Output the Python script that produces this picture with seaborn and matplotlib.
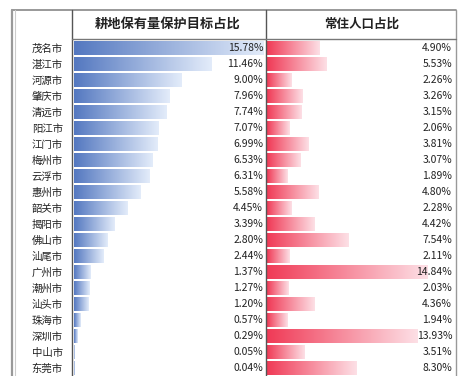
import numpy as np
import pandas as pd
import seaborn as sns
import matplotlib.pyplot as plt
from matplotlib.lines import Line2D
from matplotlib.colors import to_rgb

cities = ["茂名市", "湛江市", "河源市", "肇庆市", "清远市", "阳江市", "江门市",
          "梅州市", "云浮市", "惠州市", "韶关市", "揭阳市", "佛山市", "汕尾市",
          "广州市", "潮州市", "汕头市", "珠海市", "深圳市", "中山市", "东莞市"]
target_share = [15.78, 11.46, 9.00, 7.96, 7.74, 7.07, 6.99, 6.53, 6.31, 5.58, 4.45,
                3.39, 2.80, 2.44, 1.37, 1.27, 1.20, 0.57, 0.29, 0.05, 0.04]
pop_share = [4.90, 5.53, 2.26, 3.26, 3.15, 2.06, 3.81, 3.07, 1.89, 4.80, 2.28,
             4.42, 7.54, 2.11, 14.84, 2.03, 4.36, 1.94, 13.93, 3.51, 8.30]
header_left = "耕地保有量保护目标占比"
header_right = "常住人口占比"

df = pd.DataFrame({"city": cities, "target": target_share, "pop": pop_share})

sns.set_theme(style="white")
plt.rcParams["font.family"] = ["Noto Sans CJK SC", "DejaVu Sans"]

W, H = 462, 376
fig = plt.figure(figsize=(W / 100, H / 100), dpi=100)
fig.patch.set_facecolor("white")

top = 40
axL = fig.add_axes([74 / W, 0, 192 / W, (H - top) / H])
axR = fig.add_axes([267 / W, 0, 188 / W, (H - top) / H])


def gradient_bars(ax, c0, c1):
    g = np.linspace(0, 1, 256)[None, :, None]
    a = np.array(to_rgb(c0))[None, None, :]
    b = np.array(to_rgb(c1))[None, None, :]
    img = a * (1 - g) + b * g
    for p in ax.patches:
        x0, y0 = p.get_x(), p.get_y()
        w, h = p.get_width(), p.get_height()
        p.set_facecolor("none")
        p.set_edgecolor("none")
        im = ax.imshow(img, extent=[x0, x0 + w, y0 + h, y0], aspect="auto",
                       interpolation="bilinear", zorder=2)
        im.set_clip_path(p)


sns.barplot(data=df, y="city", x="target", ax=axL, orient="h", width=0.84,
            color="#6a8fd0")
sns.barplot(data=df, y="city", x="pop", ax=axR, orient="h", width=0.84,
            color="#f0506a")

gradient_bars(axL, "#5478c0", "#e3ecfa")
gradient_bars(axR, "#f03a56", "#fde0e6")

axL.set_xlim(0, 16.0)
axR.set_xlim(0, 17.4)
for ax in (axL, axR):
    ax.set_ylim(20.5, -0.5)
    ax.set_xlabel("")
    ax.set_ylabel("")
    ax.set_xticks([])
    for s in ax.spines.values():
        s.set_visible(False)
    ax.set_facecolor("none")

axL.tick_params(axis="y", length=0, pad=8, labelsize=7.5, labelcolor="#222222")
axR.set_yticks([])

for i, v in enumerate(target_share):
    axL.text(0.985, i, f"{v:.2f}%", transform=axL.get_yaxis_transform(),
             ha="right", va="center", fontsize=7.5, color="#222222", zorder=5)
for i, v in enumerate(pop_share):
    axR.text(0.985, i, f"{v:.2f}%", transform=axR.get_yaxis_transform(),
             ha="right", va="center", fontsize=7.5, color="#222222", zorder=5)

fig.text(168 / W, 1 - 24 / H, header_left, ha="center", va="center",
         fontsize=9.5, fontweight="bold", color="#222222")
fig.text(362 / W, 1 - 24 / H, header_right, ha="center", va="center",
         fontsize=9, fontweight="bold", color="#222222")


def fline(x0, y0, x1, y1, c="#666666", lw=1.0):
    fig.add_artist(Line2D([x0 / W, x1 / W], [1 - y0 / H, 1 - y1 / H],
                          color=c, lw=lw, transform=fig.transFigure))


fline(12, 10, 456, 10, "#888888", 1.2)
fline(12, 10, 12, 376, "#999999", 1.6)
fline(15, 10, 15, 376, "#cccccc", 0.8)
fline(456, 10, 456, 376, "#999999", 1.0)
fline(72, 10, 72, 376, "#555555", 1.0)
fline(266, 10, 266, 376, "#555555", 1.0)
fline(72, 39, 456, 39, "#777777", 1.0)

fig.savefig("out.png", dpi=100, facecolor="white")
